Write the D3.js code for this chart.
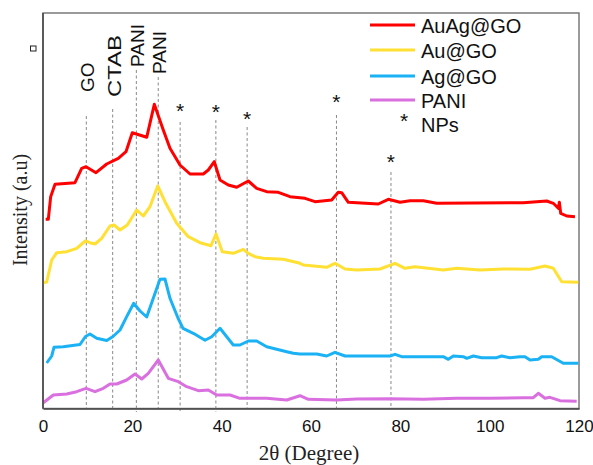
<!DOCTYPE html>
<html>
<head>
<meta charset="utf-8">
<script src="https://cdn.jsdelivr.net/npm/d3@7/dist/d3.min.js"></script>
<style>
  html, body { margin: 0; padding: 0; background: #fff; }
  svg { display: block; }
</style>
</head>
<body>
<svg id="chart" width="593" height="465"></svg>
<script>
// ---------- DATA ----------
const seriesNames = ["AuAg@GO", "Au@GO", "Ag@GO", "PANI"];
const xTicks = [0, 20, 40, 60, 80, 100, 120];

const auagX = [0.6,1.19,1.72,2.69,7.16,8.66,9.63,11.87,14.26,16.86,18.58,19.99,23.22,24.92,26.93,28.43,30.67,32.91,35.89,37.01,38.35,39.63,41.48,43.37,45.96,47.84,50.08,52.68,55.3,58.66,60.9,64.63,66.11,66.87,68.35,75.07,77.31,79.93,82.16,85.14,88.14,107.53,112.77,114.25,115.37,115.6,115.9,117.25,119.1];
const auagY = [189.7,189.7,212.3,224.7,226.3,240.7,242.3,236.3,245,250.7,257.3,276.3,271.7,304.7,279,260.7,244,235,235,239,247.3,229,224,221.7,228,220.7,217.3,216.7,212.3,210.7,207.3,209,216.7,216.3,206.7,205,209.7,206.7,208.3,208.3,205.7,206.3,208,205.7,200.7,206.7,195.7,193,192.3];

const auX = [0.07,0.83,1.95,3.07,5.31,7.54,9.47,10.52,11.64,13.14,15.0,15.9,17.24,18.87,20.98,22.45,23.95,25.68,27.31,29.93,32.53,35.15,37.61,38.73,40.14,42.6,44.84,45.96,47.46,49.32,53.8,57.54,58.28,63.51,65.37,67.61,70.23,75.45,78.81,81.04,83.28,89.62,92.62,97.84,103.05,109.03,112.39,114.24,116.13,119.84];
const auY = [126.3,127,149,156.3,157.3,160.7,168,166.3,165,170.7,183,184,179,184,199,193,202.3,223,207.3,185.7,172.3,166.3,163.3,175,157.3,155.7,159.7,155.7,152.3,150.7,149.7,145.7,144,141.7,145.7,140,139,140,145.7,140.7,142.3,139,140.7,139,140,139.7,143,140.7,127.3,126.7];

const agX = [0.83,1.95,2.46,4.54,8.28,9.51,10.52,12.02,14.26,15.67,17.24,18.74,20.31,21.72,23.22,24.69,26.19,27.31,28.43,30.22,31.34,33.65,36.27,37.77,39.63,41.13,42.6,44.1,45.96,47.84,50.08,54.56,56.04,57.54,61.28,63.51,65.37,67.61,77.69,78.81,80.3,89.62,90.74,91.86,94.1,94.86,96.34,98.22,101.57,102.69,104.55,106.79,107.91,109.03,110.89,111.65,113.88,116.48,119.84];
const agY = [46,53,61.7,62.3,64.5,72.5,75,70.7,68.5,72.5,79,92.3,105.7,98,92,110.7,129.7,130,110.7,91,80.7,75.7,68.7,72.3,80.7,72.3,64,64,68,68,62.3,57.3,55.7,55,55,53,56.7,53,53,54.7,52.3,52.3,49.7,53,52.3,50.7,53,51.3,51.3,53,51.3,52.3,52.3,49,49.7,52.3,52.3,45.7,45.7];

const paniX = [0.07,2.31,5.31,7.54,9.63,11.64,13.5,15.0,16.5,18.74,20.6,22.1,23.57,25.81,28.05,30.29,32.17,34.77,37.01,38.89,41.87,44.1,50.08,54.56,57.54,59.4,65.75,70.23,77.69,85.14,92.62,100.07,107.53,109.77,110.89,112.39,113.5,115.75,119.48];
const paniY = [6.3,14,15,17.3,20.7,17.3,20.7,25,25,29,35,30,35.7,49,30.7,27.3,22.3,18.3,19,14,14,10.7,10.7,9,13.3,9.7,9,10,10.3,9.7,10.7,10.7,11.3,11.3,15.7,10.7,11.7,8.3,7.7];

// reference (dashed) lines: 2θ position and the intensity level where they start
const refPos = [9.7, 15.6, 20.9, 25.8, 30.7, 38.7, 45.7, 65.7, 77.9];
const refTop = [293, 300, 339, 332, 287, 289, 282, 294, 237];

// phase labels
const phaseLabels = ["GO", "CTAB", "PANI", "PANI"];
const phasePos = [9.7, 15.6, 20.9, 25.8];
const phaseLevel = [317, 312, 342, 335];

// NP asterisks
const starPos = [30.7, 38.7, 45.7, 65.7, 77.9];
const starLevel = [302, 301, 294, 311, 251];

// ---------- LAYOUT ----------
const colors = ["#ff0000", "#ffe033", "#1ab2f5", "#da6fe0"];
const pLeft = 43, pRight = 579, pTop = 13, pBottom = 408.5;

const svg = d3.select("#chart");
const x = d3.scaleLinear().domain([0, 120]).range([pLeft, pRight]);
const y = d3.scaleLinear().domain([0, 396]).range([409, 13]);

const sans = "'Liberation Sans', Arial, sans-serif";
const serif = "'Liberation Serif', 'Times New Roman', serif";

// frame
svg.append("rect")
  .attr("x", pLeft).attr("y", pTop)
  .attr("width", pRight - pLeft).attr("height", pBottom - pTop)
  .attr("fill", "none").attr("stroke", "#7a7a7a").attr("stroke-width", 1.5);

// dashed reference lines
const extend = [false, false, true, false, true, true, false, false, false];
svg.append("g").selectAll("line").data(refPos).join("line")
  .attr("x1", d => x(d)).attr("x2", d => x(d))
  .attr("y1", (d, i) => y(refTop[i]))
  .attr("y2", (d, i) => extend[i] ? pBottom + 3.5 : pBottom)
  .attr("stroke", "#888").attr("stroke-width", 1)
  .attr("stroke-dasharray", "3,2.5");

// series
const seriesX = [auagX, auX, agX, paniX];
const seriesY = [auagY, auY, agY, paniY];
const line = d3.line().x(d => x(d[0])).y(d => y(d[1]));
seriesNames.forEach((name, i) => {
  const pts = seriesX[i].map((v, j) => [v, seriesY[i][j]]);
  svg.append("path")
    .datum(pts)
    .attr("d", line)
    .attr("fill", "none")
    .attr("stroke", colors[i])
    .attr("stroke-width", 3)
    .attr("stroke-linejoin", "round")
    .attr("stroke-linecap", "butt");
});

// axes lines (left & bottom darker)
svg.append("line").attr("x1", pLeft).attr("x2", pLeft).attr("y1", pTop).attr("y2", pBottom)
  .attr("stroke", "#444").attr("stroke-width", 1.5);
const xAxis = d3.axisBottom(x).tickValues(xTicks).tickSize(0).tickPadding(11);
const gx = svg.append("g").attr("transform", `translate(0,${pBottom})`).call(xAxis);
gx.select(".domain").attr("stroke", "#444").attr("stroke-width", 1.5);
gx.selectAll("text").attr("font-family", sans).attr("font-size", 17).attr("fill", "#111");

// phase labels (rotated)
svg.append("g").selectAll("text").data(phaseLabels).join("text")
  .attr("transform", (d, i) => `translate(${x(phasePos[i]) + 8},${y(phaseLevel[i])}) rotate(-90)`)
  .attr("font-family", sans).attr("font-size", 19).attr("fill", "#111")
  .attr("textLength", d => d === "CTAB" ? 62 : null)
  .attr("lengthAdjust", "spacingAndGlyphs")
  .text(d => d);

// asterisks
svg.append("g").selectAll("text").data(starPos).join("text")
  .attr("x", d => x(d)).attr("y", (d, i) => y(starLevel[i]) + 11)
  .attr("text-anchor", "middle")
  .attr("font-family", sans).attr("font-size", 21).attr("fill", "#111")
  .text("*");

// legend
const lg = svg.append("g");
const legY = [25, 50, 76, 100];
seriesNames.forEach((name, i) => {
  lg.append("line").attr("x1", 370).attr("x2", 415)
    .attr("y1", legY[i]).attr("y2", legY[i])
    .attr("stroke", colors[i]).attr("stroke-width", 3);
  lg.append("text").attr("x", 421).attr("y", legY[i] + 7.5)
    .attr("font-family", sans).attr("font-size", 20).attr("fill", "#111")
    .text(name);
});
lg.append("text").attr("x", 404).attr("y", 128).attr("text-anchor", "middle")
  .attr("font-family", sans).attr("font-size", 21).attr("fill", "#111").text("*");
lg.append("text").attr("x", 421).attr("y", 132)
  .attr("font-family", sans).attr("font-size", 20).attr("fill", "#111").text("NPs");

// small square marker
svg.append("rect").attr("x", 30.5).attr("y", 46).attr("width", 5.5).attr("height", 5)
  .attr("fill", "#fff").attr("stroke", "#222").attr("stroke-width", 1);

// axis titles
svg.append("text")
  .attr("transform", `translate(27,210) rotate(-90)`)
  .attr("text-anchor", "middle")
  .attr("font-family", serif).attr("font-size", 20).attr("fill", "#222")
  .text("Intensity (a.u)");
svg.append("text")
  .attr("x", 309).attr("y", 459.5)
  .attr("text-anchor", "middle")
  .attr("font-family", serif).attr("font-size", 21).attr("fill", "#222")
  .text("2θ (Degree)");
</script>
</body>
</html>
